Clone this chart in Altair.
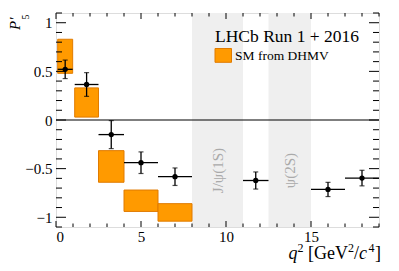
import altair as alt
import pandas as pd

# ---------------- data ----------------
# LHCb measurement (points with bin widths)
bin_lo = [0.10, 1.1, 2.5, 4.0, 6.0, 11.0, 15.0, 17.0]
bin_hi = [0.98, 2.5, 4.0, 6.0, 8.0, 12.5, 17.0, 19.0]
p5_val = [0.521, 0.365, -0.150, -0.439, -0.583, -0.622, -0.714, -0.597]
p5_err = [0.095, 0.122, 0.144, 0.111, 0.090, 0.088, 0.073, 0.080]

# SM prediction boxes (DHMV)
sm_lo_x = [0.10, 1.1, 2.5, 4.0, 6.0]
sm_hi_x = [0.98, 2.5, 4.0, 6.0, 8.0]
sm_lo_y = [0.48, 0.03, -0.64, -0.94, -1.04]
sm_hi_y = [0.83, 0.33, -0.315, -0.72, -0.86]

# vetoed charmonium regions
veto_lo = [8.0, 12.5]
veto_hi = [11.0, 15.0]
veto_label = ["J/ψ(1S)", "ψ(2S)"]
veto_label_y = [-0.52, -0.52]

# axis ticks
x_major = [0, 5, 10, 15]
x_minor = [1, 2, 3, 4, 6, 7, 8, 9, 11, 12, 13, 14, 16, 17, 18, 19]
y_major = [-1.0, -0.5, 0.0, 0.5, 1.0]
y_minor = [-1.1, -0.9, -0.8, -0.7, -0.6, -0.4, -0.3, -0.2, -0.1,
           0.1, 0.2, 0.3, 0.4, 0.6, 0.7, 0.8, 0.9, 1.1]

# ---------------- layout ----------------
W, H = 323, 214
FONT = "Liberation Serif"
XDOM = [0, 19]
YDOM = [-1.1, 1.1]

meas = pd.DataFrame({
    "lo": bin_lo, "hi": bin_hi,
    "x": [(a + b) / 2 for a, b in zip(bin_lo, bin_hi)],
    "y": p5_val,
    "ylo": [v - e for v, e in zip(p5_val, p5_err)],
    "yhi": [v + e for v, e in zip(p5_val, p5_err)],
})
sm = pd.DataFrame({"x": sm_lo_x, "x2": sm_hi_x, "y": sm_lo_y, "y2": sm_hi_y})
veto = pd.DataFrame({"x": veto_lo, "x2": veto_hi,
                     "xc": [(a + b) / 2 for a, b in zip(veto_lo, veto_hi)],
                     "label": veto_label, "ly": veto_label_y})

xs = alt.Scale(domain=XDOM, nice=False, zero=False)
ys = alt.Scale(domain=YDOM, nice=False, zero=False)
AX = alt.Axis(values=x_major, ticks=False, domain=False, grid=False, title=None,
              labelFont=FONT, labelFontSize=15, labelPadding=2, labelColor="black")
AY = alt.Axis(values=y_major, ticks=False, domain=False, grid=False, title=None,
              format="~g", labelFont=FONT, labelFontSize=15, labelPadding=4,
              labelColor="black")

def X(f):
    return alt.X(f, type="quantitative", scale=xs, axis=AX)

def Y(f):
    return alt.Y(f, type="quantitative", scale=ys, axis=AY)

bands = alt.Chart(veto).mark_rect(color="#efefef").encode(
    x=X("x"), x2="x2", y=alt.value(0), y2=alt.value(H))

band_text = alt.Chart(veto).mark_text(
    angle=270, font=FONT, fontSize=15, color="#aaaaaa", align="center",
    baseline="middle").encode(x=X("xc"), y=Y("ly"), text="label")

boxes = alt.Chart(sm).mark_rect(fill="#ff9a00", stroke="#e07b00",
                                strokeWidth=1).encode(
    x=X("x"), x2="x2", y=Y("y"), y2="y2")

zero = alt.Chart(pd.DataFrame({"y": [0.0]})).mark_rule(
    color="black", strokeWidth=1.2).encode(
    y=Y("y"), x=alt.value(0), x2=alt.value(W))

hbar = alt.Chart(meas).mark_rule(color="black", strokeWidth=1.3).encode(
    x=X("lo"), x2="hi", y=Y("y"))
vbar = alt.Chart(meas).mark_rule(color="black", strokeWidth=1.3).encode(
    x=X("x"), y=Y("ylo"), y2="yhi")
cap_lo = alt.Chart(meas).mark_tick(color="black", orient="horizontal", size=5,
                                   thickness=1.2).encode(x=X("x"), y=Y("ylo"))
cap_hi = alt.Chart(meas).mark_tick(color="black", orient="horizontal", size=5,
                                   thickness=1.2).encode(x=X("x"), y=Y("yhi"))
pts = alt.Chart(meas).mark_point(filled=True, shape="circle", size=28,
                                 color="black", opacity=1).encode(
    x=X("x"), y=Y("y"))

# inside ticks on all four sides
def xticks(vals, ln):
    d = pd.DataFrame({"v": vals})
    b = alt.Chart(d).mark_rule(color="black", strokeWidth=1).encode(
        x=X("v"), y=alt.value(H), y2=alt.value(H - ln))
    t = alt.Chart(d).mark_rule(color="black", strokeWidth=1).encode(
        x=X("v"), y=alt.value(0), y2=alt.value(ln))
    return [b, t]

def yticks(vals, ln):
    d = pd.DataFrame({"v": vals})
    l = alt.Chart(d).mark_rule(color="black", strokeWidth=1).encode(
        y=Y("v"), x=alt.value(0), x2=alt.value(ln))
    r = alt.Chart(d).mark_rule(color="black", strokeWidth=1).encode(
        y=Y("v"), x=alt.value(W), x2=alt.value(W - ln))
    return [l, r]

ticks = xticks(x_major, 6) + xticks(x_minor, 3.5) + yticks(y_major, 10) + yticks(y_minor, 6)

one = pd.DataFrame({"a": [0]})

def txt(s, x, y, size, italic=False, angle=None, align="left", color="black"):
    kw = dict(font=FONT, fontSize=size, align=align, baseline="alphabetic",
              color=color, text=s)
    if italic:
        kw["fontStyle"] = "italic"
    if angle is not None:
        kw["angle"] = angle
    return alt.Chart(one).mark_text(**kw).encode(x=alt.value(x), y=alt.value(y))

legend = [
    txt("LHCb Run 1 + 2016", 159, 28.7, 17.5),
    alt.Chart(one).mark_rect(fill="#ff9a00", stroke="#e07b00", strokeWidth=1).encode(
        x=alt.value(159), x2=alt.value(175.5), y=alt.value(35.5), y2=alt.value(49.3)),
    txt("SM from DHMV", 179, 47, 13.5),
]

# x title: q² [GeV²/c⁴]
TY = 245.5
xtitle = [
    txt("q", 232.5, TY, 18, italic=True),
    txt("2", 241.5, TY - 7, 12),
    txt("[GeV", 252, TY, 18),
    txt("2", 292, TY - 7, 12),
    txt("/", 298, TY, 18),
    txt("c", 303, TY, 18, italic=True),
    txt("4", 312.5, TY - 7, 12),
    txt("]", 319, TY, 18),
]

# y title: P'5
ytitle = [
    txt("P′", -36, 17, 15, italic=True, angle=270),
    txt("5", -27.5, 6.5, 10, angle=270),
]

chart = alt.layer(
    bands, band_text, boxes, zero, hbar, vbar, cap_lo, cap_hi, pts,
    *ticks, *legend, *xtitle, *ytitle
).properties(
    width=W, height=H,
    padding={"left": 48, "top": 5, "right": 12, "bottom": 36},
    autosize="none",
).configure_view(stroke="black", strokeWidth=1.5).configure(
    background="white", font=FONT
).configure_axis(labelFont=FONT, labelFontSize=15, labelColor="black")

chart.save("out.html", embed_options={"renderer": "svg", "actions": False})
